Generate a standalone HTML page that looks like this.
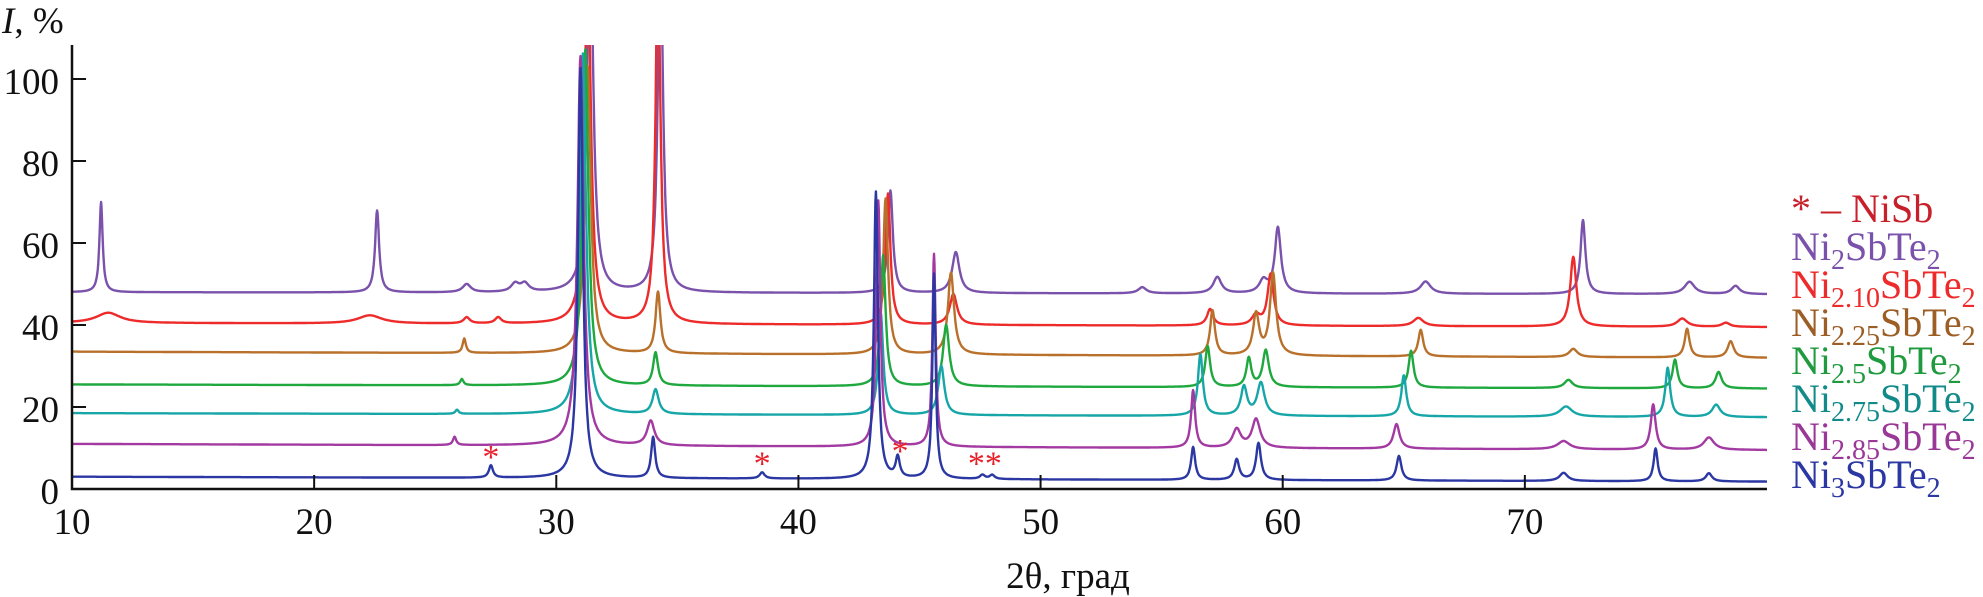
<!DOCTYPE html>
<html><head><meta charset="utf-8"><style>
html,body{margin:0;padding:0;background:#fff;font-family:"Times New Roman","Liberation Serif",serif;}
svg{display:block;}
svg text, svg tspan{font-family:"Times New Roman","Liberation Serif","DejaVu Serif",serif !important;}
</style></head><body>
<svg id="chart" width="1983" height="597" viewBox="0 0 1983 597" style="position:absolute;left:0;top:0" font-family="Times New Roman, Liberation Serif, serif">
<defs><clipPath id="plotclip"><rect x="72" y="45" width="1700" height="446"/></clipPath></defs>
<g id="series" clip-path="url(#plotclip)"></g>
<g id="axes"></g>
<text x="2" y="33" font-size="37" fill="#111"><tspan font-style="italic">I</tspan>, %</text>
<text x="1068" y="588" text-anchor="middle" font-size="37" fill="#111">2θ, град</text>
<g font-size="40">
<text x="1791" y="222" fill="#c8202a">* – NiSb</text>
<text x="1791" y="260" fill="#7a52ac">Ni<tspan font-size="28" dy="9">2</tspan><tspan dy="-9">SbTe</tspan><tspan font-size="28" dy="9">2</tspan></text>
<text x="1791" y="298" fill="#ee2b2b">Ni<tspan font-size="28" dy="9">2.10</tspan><tspan dy="-9">SbTe</tspan><tspan font-size="28" dy="9">2</tspan></text>
<text x="1791" y="336" fill="#9c5e24">Ni<tspan font-size="28" dy="9">2.25</tspan><tspan dy="-9">SbTe</tspan><tspan font-size="28" dy="9">2</tspan></text>
<text x="1791" y="374" fill="#1f9a3e">Ni<tspan font-size="28" dy="9">2.5</tspan><tspan dy="-9">SbTe</tspan><tspan font-size="28" dy="9">2</tspan></text>
<text x="1791" y="412" fill="#138a8a">Ni<tspan font-size="28" dy="9">2.75</tspan><tspan dy="-9">SbTe</tspan><tspan font-size="28" dy="9">2</tspan></text>
<text x="1791" y="450" fill="#9a3898">Ni<tspan font-size="28" dy="9">2.85</tspan><tspan dy="-9">SbTe</tspan><tspan font-size="28" dy="9">2</tspan></text>
<text x="1791" y="488" fill="#2b37a2">Ni<tspan font-size="28" dy="9">3</tspan><tspan dy="-9">SbTe</tspan><tspan font-size="28" dy="9">2</tspan></text>
</g>
</svg>
<script>
// ---- data ----
const seriesNames = ["Ni2SbTe2","Ni2.10SbTe2","Ni2.25SbTe2","Ni2.5SbTe2","Ni2.75SbTe2","Ni2.85SbTe2","Ni3SbTe2"];
const seriesColors = ["#7a52ac","#ee2b2b","#b8702a","#1fa83e","#17a6a8","#a23aa2","#2b37a2"];
const baseStart = [48, 40.5, 33.5, 25.5, 18.5, 11, 3];
const baseEnd   = [47.5, 39.5, 32, 24.5, 17.5, 9.5, 1.8];
const peakPos = [
 [11.2,22.6,26.3,28.3,28.7,31.4,34.3,43.8,46.5,54.2,57.3,59.2,59.8,65.9,72.4,76.8,78.7],
 [11.5,22.3,26.3,27.6,31.3,34.2,43.7,46.4,57.0,58.9,59.5,65.6,72.0,76.5,78.3],
 [26.2,31.3,34.2,43.6,46.3,57.1,58.9,59.6,65.7,72.0,76.7,78.5],
 [26.1,31.2,34.1,43.5,46.1,56.9,58.6,59.3,65.3,71.8,76.2,78.0],
 [25.9,31.1,34.1,43.4,45.9,56.6,58.4,59.1,65.0,71.7,75.9,77.9],
 [25.8,31.0,33.9,43.3,45.6,56.3,58.1,58.9,64.7,71.6,75.3,77.6],
 [27.3,31.0,34.0,38.5,43.2,44.1,45.6,47.6,48.0,56.3,58.1,59.0,64.8,71.6,75.4,77.6]
];
const peakHeight = [
 [22,20,2,2,2,90,90,25,10,1.5,4,3,16,3,18,3,2],
 [2.5,2,1.5,1.5,90,90,32,7.5,4,2.5,12.5,2,17,2,1],
 [3.5,70,15,38,20,11,10,20,6.5,2,7,4],
 [1.5,82,8,32,15,10,7,9,9,2,7,4],
 [1,88,6,25,12,15,7,8,10,2.5,12,3],
 [2,95,6,60,47,14,4.5,7,6,2,11,3],
 [3,100,10,1.5,70,5,50,1,1,8,5,9,6,2,8,2]
];
const peakWidth = [
 [0.08,0.1,0.2,0.2,0.2,0.15,0.12,0.12,0.18,0.2,0.2,0.2,0.15,0.25,0.12,0.25,0.2],
 [0.6,0.6,0.15,0.15,0.15,0.12,0.12,0.18,0.15,0.2,0.15,0.25,0.15,0.25,0.2],
 [0.08,0.15,0.12,0.12,0.15,0.12,0.15,0.15,0.12,0.2,0.12,0.15],
 [0.08,0.15,0.12,0.12,0.15,0.12,0.12,0.15,0.12,0.2,0.12,0.15],
 [0.08,0.15,0.15,0.12,0.15,0.12,0.15,0.18,0.12,0.3,0.12,0.2],
 [0.08,0.15,0.18,0.1,0.08,0.1,0.2,0.2,0.15,0.3,0.12,0.25],
 [0.1,0.12,0.1,0.12,0.1,0.1,0.08,0.12,0.12,0.1,0.12,0.12,0.12,0.2,0.1,0.15]
];
const xTicks = [10,20,30,40,50,60,70];
const yTicks = [0,20,40,60,80,100];
const markerX = [27.3, 38.5, 44.2, 47.7];
const markerY = [8.5, 7, 10, 7];
const markerText = ["*","*","*","**"];

// ---- scales ----
const X0=72, X1=1767, XMIN=10, XMAX=80, Y0=489, PPU=4.1;
const sx = v => X0 + (v-XMIN)*(X1-X0)/(XMAX-XMIN);
const sy = v => Y0 - v*PPU;
const NS="http://www.w3.org/2000/svg";
const SERIF="Times New Roman, Liberation Serif, serif";
function mk(tag, attrs, parent){const e=document.createElementNS(NS,tag);for(const k in attrs)e.setAttribute(k,attrs[k]);parent.appendChild(e);return e;}

const sg=document.getElementById('series');
for(let s=0;s<seriesNames.length;s++){
  let d="";
  for(let x=XMIN; x<=XMAX+0.001; x+=0.02){
    let y = baseStart[s] + (baseEnd[s]-baseStart[s])*(x-XMIN)/(XMAX-XMIN);
    for(let p=0;p<peakPos[s].length;p++){
      const u=(x-peakPos[s][p])/peakWidth[s][p];
      y += peakHeight[s][p]/(1+u*u);
    }
    d += (d?"L":"M")+sx(x).toFixed(1)+","+sy(y).toFixed(1);
  }
  const path=mk('path',{d:d,fill:'none',stroke:seriesColors[s],'stroke-width':2.4,'stroke-linejoin':'round'},sg);
  
  
}
for(let i=0;i<markerX.length;i++){
  const t=mk('text',{x:sx(markerX[i]),y:sy(markerY[i])+14,'text-anchor':'middle','font-size':34,fill:'#e8202a','font-family':SERIF},sg);
  t.textContent=markerText[i];
  
  
}

const ag=document.getElementById('axes');
const axl=mk('path',{d:`M${X0},45 L${X0},${Y0} L${X1},${Y0}`,fill:'none',stroke:'#111','stroke-width':2.5},ag);


for(const v of xTicks){
  const l=mk('line',{x1:sx(v),x2:sx(v),y1:Y0,y2:Y0-14,stroke:'#111','stroke-width':2},ag);
  
  
  const t=mk('text',{x:sx(v),y:534,'text-anchor':'middle','font-size':37,fill:'#111','font-family':SERIF},ag);
  t.textContent=v;
  
  
}
for(const v of yTicks){
  const l=mk('line',{x1:X0,x2:X0+14,y1:sy(v),y2:sy(v),stroke:'#111','stroke-width':2},ag);
  
  
  const t=mk('text',{x:59,y:sy(v)+15,'text-anchor':'end','font-size':37,fill:'#111','font-family':SERIF},ag);
  t.textContent=v;
  
  
}
</script>
</body></html>
